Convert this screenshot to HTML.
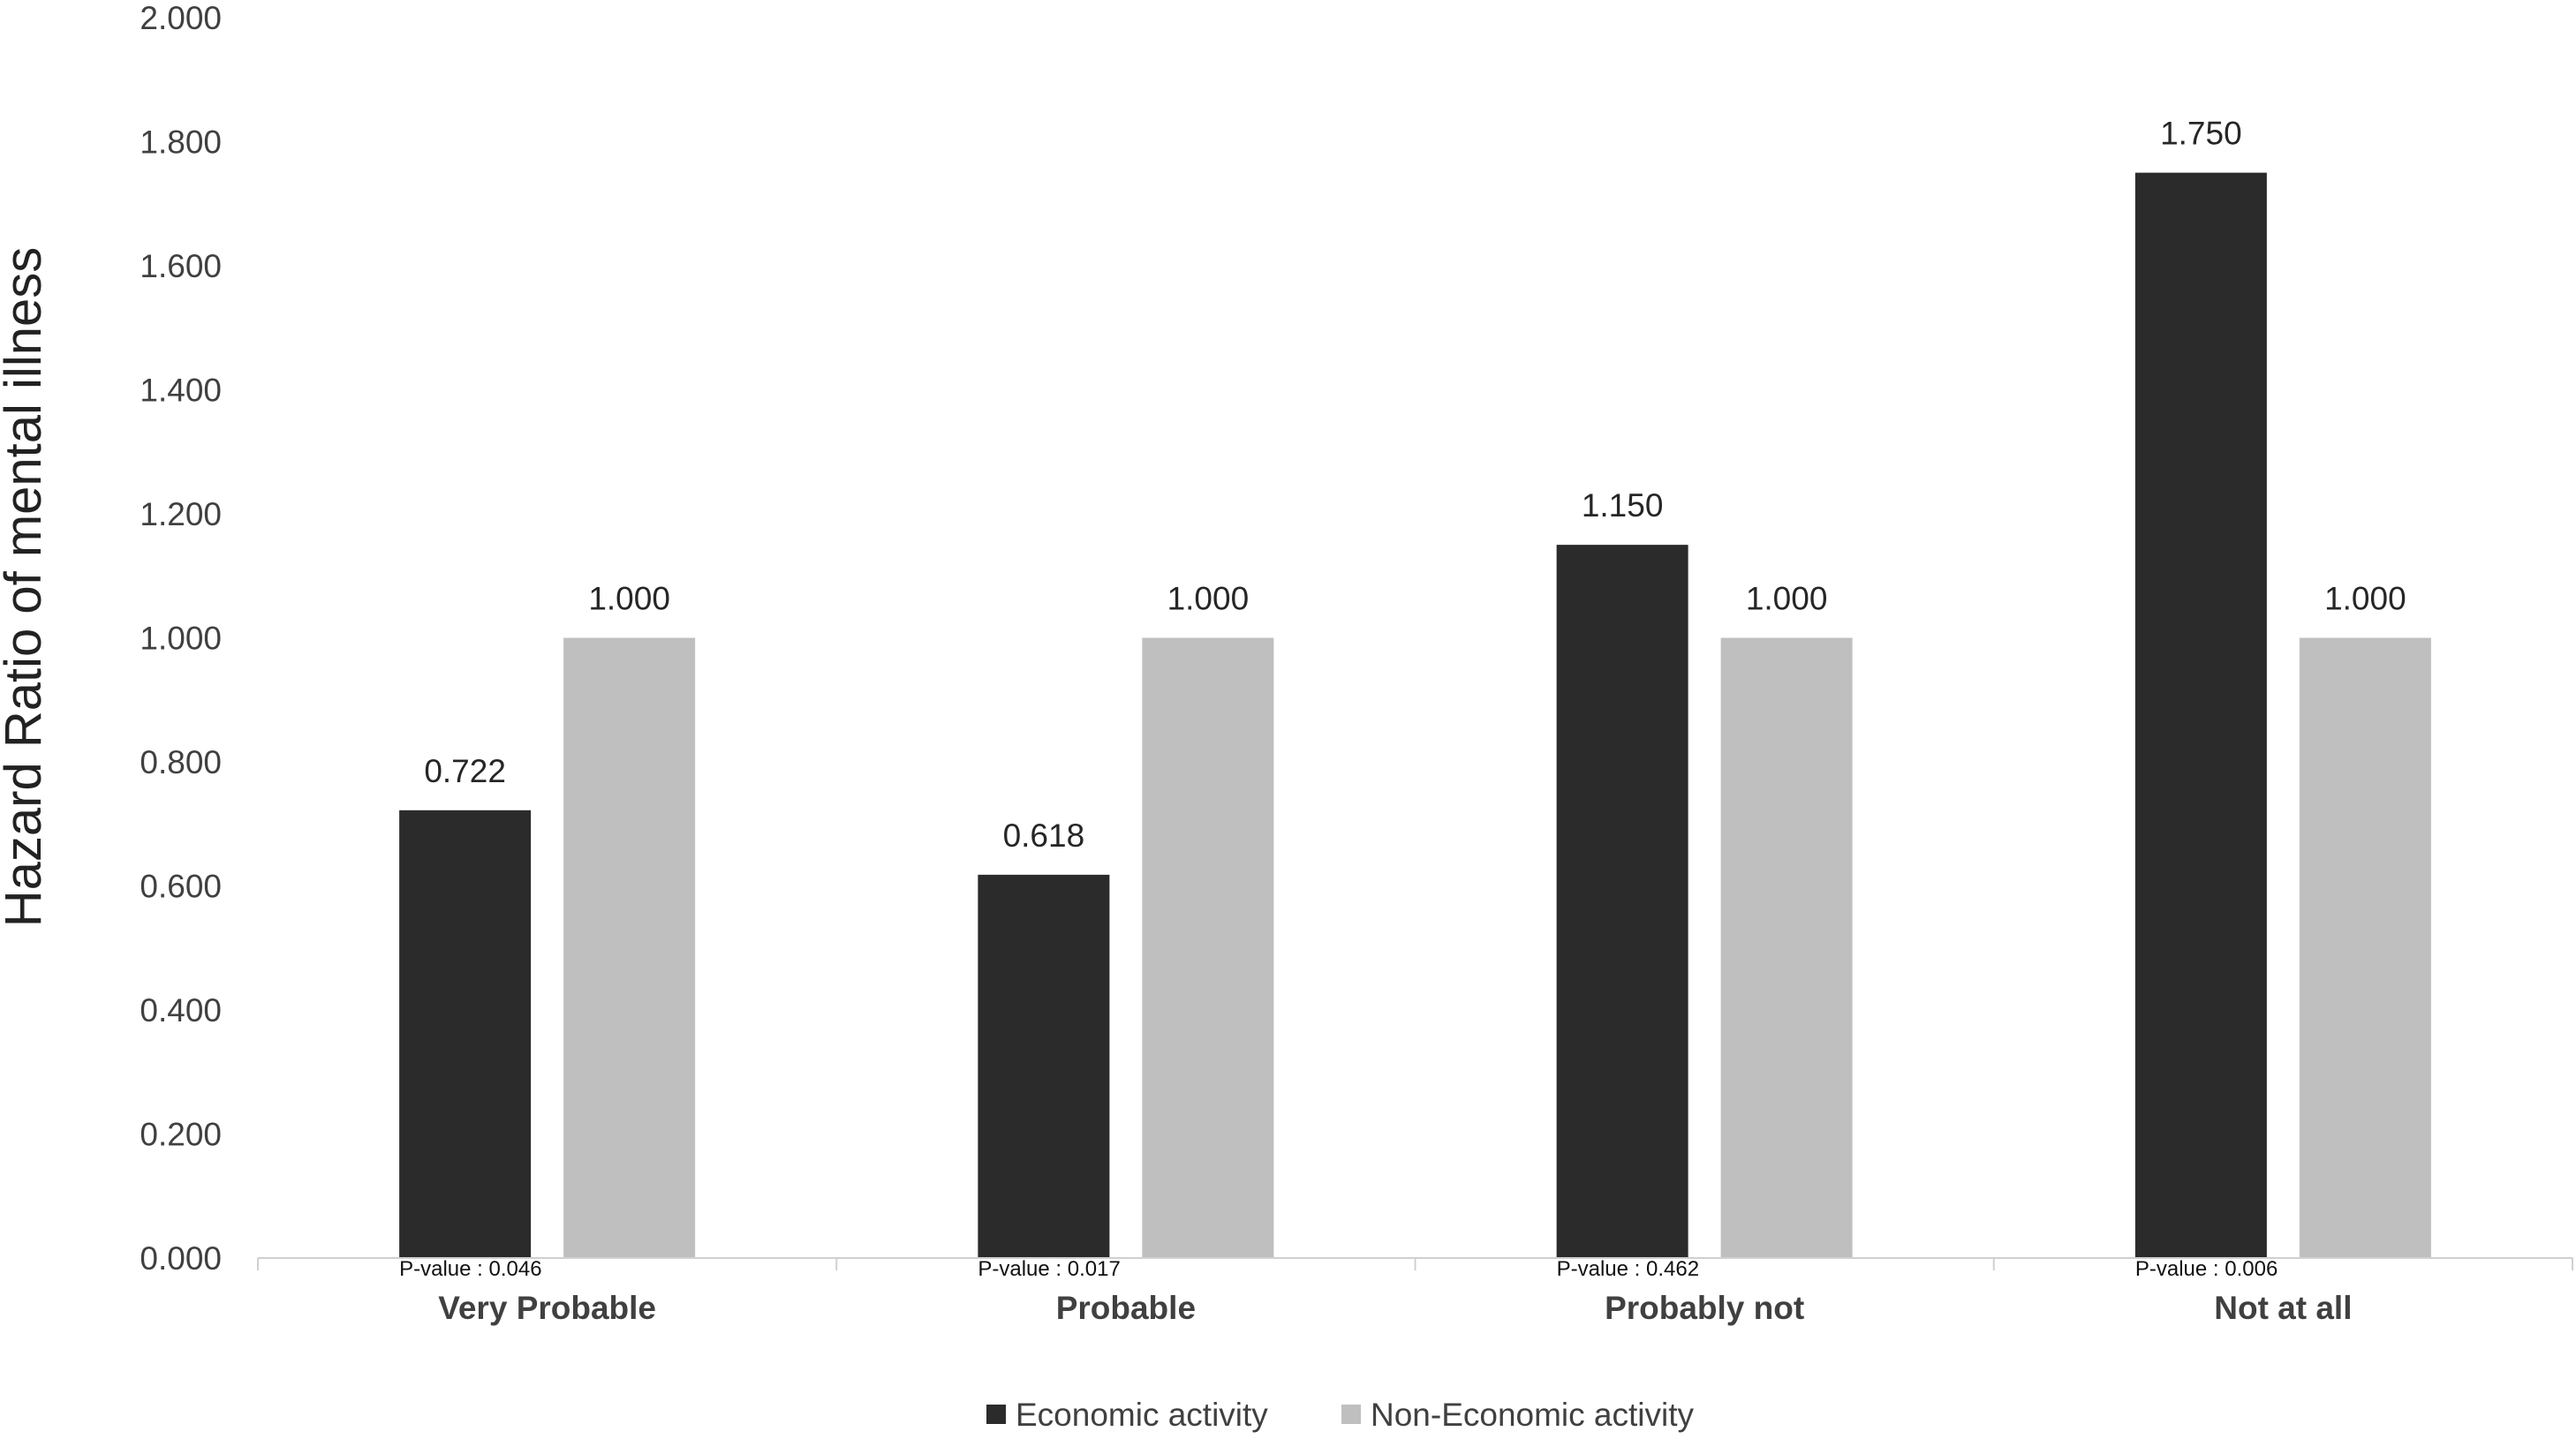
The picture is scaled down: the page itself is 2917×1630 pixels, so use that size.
<!DOCTYPE html>
<html><head><meta charset="utf-8"><style>
html,body{margin:0;padding:0;background:#fff;}
svg{display:block;font-family:"Liberation Sans",sans-serif;}
</style></head><body>
<svg id="chart" width="2917" height="1630" viewBox="0 0 2917 1630">
<g id="yaxis"></g>
<g id="bars"></g>
<line x1="292" y1="1425" x2="2913" y2="1425" stroke="#d0d0d0" stroke-width="2"/>
<g id="xaxis"></g>
<text x="0" y="0" transform="translate(46,665) rotate(-90)" text-anchor="middle" font-size="58" fill="#222">Hazard Ratio of mental illness</text>
<g>
<rect x="1117" y="1591" width="22" height="22" fill="#2b2b2b"/>
<text x="1150" y="1615" font-size="37" fill="#404040">Economic activity</text>
<rect x="1519" y="1591" width="22" height="22" fill="#bfbfbf"/>
<text x="1552" y="1615" font-size="37" fill="#404040">Non-Economic activity</text>
</g>
</svg>
<script>
const categories = ["Very Probable", "Probable", "Probably not", "Not at all"];
const economic = [0.722, 0.618, 1.150, 1.750];
const nonEconomic = [1.000, 1.000, 1.000, 1.000];
const pValues = ["0.046", "0.017", "0.462", "0.006"];
const yTicks = [0, 0.2, 0.4, 0.6, 0.8, 1.0, 1.2, 1.4, 1.6, 1.8, 2.0];

const NS = "http://www.w3.org/2000/svg";
const y0 = 1425, yTop = 20, yMax = 2.0;
const xLeft = 292, xRight = 2913;
const bandW = (xRight - xLeft) / categories.length;
function yScale(v){ return y0 - (v / yMax) * (y0 - yTop); }
function xCenter(i){ return xLeft + bandW * (i + 0.5); }
const barW = 149, off = 93;

function mk(tag, attrs, parent, text){
  const el = document.createElementNS(NS, tag);
  for (const k in attrs) el.setAttribute(k, attrs[k]);
  if (text !== undefined) el.textContent = text;
  parent.appendChild(el);
  return el;
}
const yaxis = document.getElementById('yaxis');
yTicks.forEach(t => {
  const el = mk('text', {x: 251, y: yScale(t) + 13, 'text-anchor': 'end', 'font-size': 37, fill: '#404040'}, yaxis, t.toFixed(3));
  
  
});
const xaxis = document.getElementById('xaxis');
for (let i = 0; i <= categories.length; i++) {
  const x = xLeft + bandW * i;
  const el = mk('line', {x1: x, y1: y0, x2: x, y2: y0 + 14, stroke: '#d0d0d0', 'stroke-width': 2}, xaxis);
  
  
}
const bars = document.getElementById('bars');
categories.forEach((c, i) => {
  const cx = xCenter(i);
  const series = [[economic[i], '#2b2b2b', -off, 'bar-economic'], [nonEconomic[i], '#bfbfbf', off, 'bar-non-economic']];
  series.forEach(s => {
    const v = s[0], bx = cx + s[2] - barW / 2, by = yScale(v);
    const r = mk('rect', {x: bx, y: by, width: barW, height: y0 - by, fill: s[1]}, bars);
    
    
    const lbl = mk('text', {x: cx + s[2], y: by - 32, 'text-anchor': 'middle', 'font-size': 37, fill: '#262626'}, bars, v.toFixed(3));
    
    
  });
  const p = mk('text', {x: cx - off - barW / 2, y: 1445, 'font-size': 24, fill: '#111'}, xaxis, 'P-value : ' + pValues[i]);
  
  
  const cl = mk('text', {x: cx, y: 1494, 'text-anchor': 'middle', 'font-size': 37, 'font-weight': 'bold', fill: '#404040'}, xaxis, c);
  
  
});
</script>
</body></html>
